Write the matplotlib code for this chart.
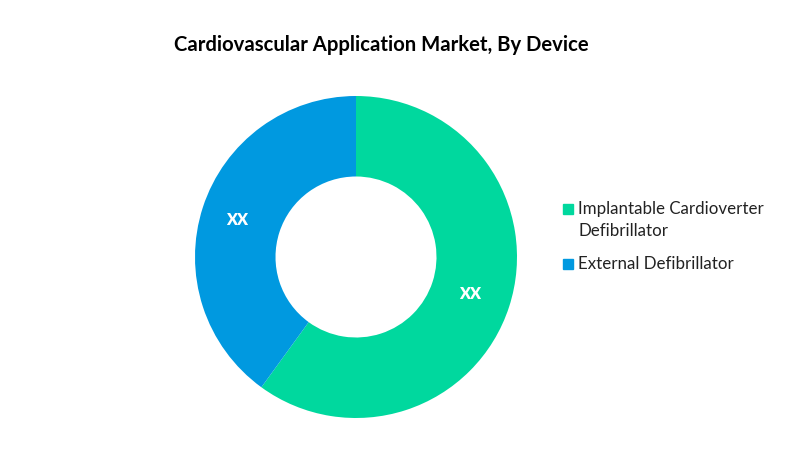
import matplotlib
matplotlib.use('Agg')
import matplotlib.pyplot as plt
from matplotlib.patches import Rectangle

categories = ['Implantable Cardioverter\nDefibrillator', 'External Defibrillator']
shares = [60, 40]
labels = ['XX', 'XX']
colors = ['#00D89E', '#0099E0']

plt.rcParams['font.family'] = ['Lato', 'DejaVu Sans']

W, H = 800, 459
fig = plt.figure(figsize=(8, 4.59), dpi=100)

# pie centre (356, 257), radius 161 px
ax = fig.add_axes([195 / W, 1 - 418 / H, 322 / W, 322 / H])
wedges, _ = ax.pie(shares, colors=colors, startangle=90, counterclock=False,
                   radius=1, wedgeprops={'width': 0.5})
ax.set_xlim(-1, 1)
ax.set_ylim(-1, 1)

# value labels
ax.text(0.71, -0.23, labels[0], color='white', fontsize=11.5, fontweight='heavy',
        ha='center', va='center')
ax.text(-0.74, 0.23, labels[1], color='white', fontsize=11.5, fontweight='heavy',
        ha='center', va='center')

fig.text(381 / W, 1 - 45 / H, 'Cardiovascular Application Market, By Device',
         fontsize=14.6, fontweight='bold', ha='center', va='center', color='black')

# legend drawn by hand, the swatch sits on the first line of a wrapped label
for name, col, y in zip(categories, colors, [209, 264]):
    fig.patches.append(Rectangle((563 / W, 1 - (y + 5) / H), 10 / W, 10 / H, color=col,
                                 transform=fig.transFigure, figure=fig))
    fig.text(578 / W, 1 - (y - 8) / H, name, fontsize=12.2, color='#222222',
             ha='left', va='top', linespacing=1.5)

fig.savefig('out.png', dpi=100)
